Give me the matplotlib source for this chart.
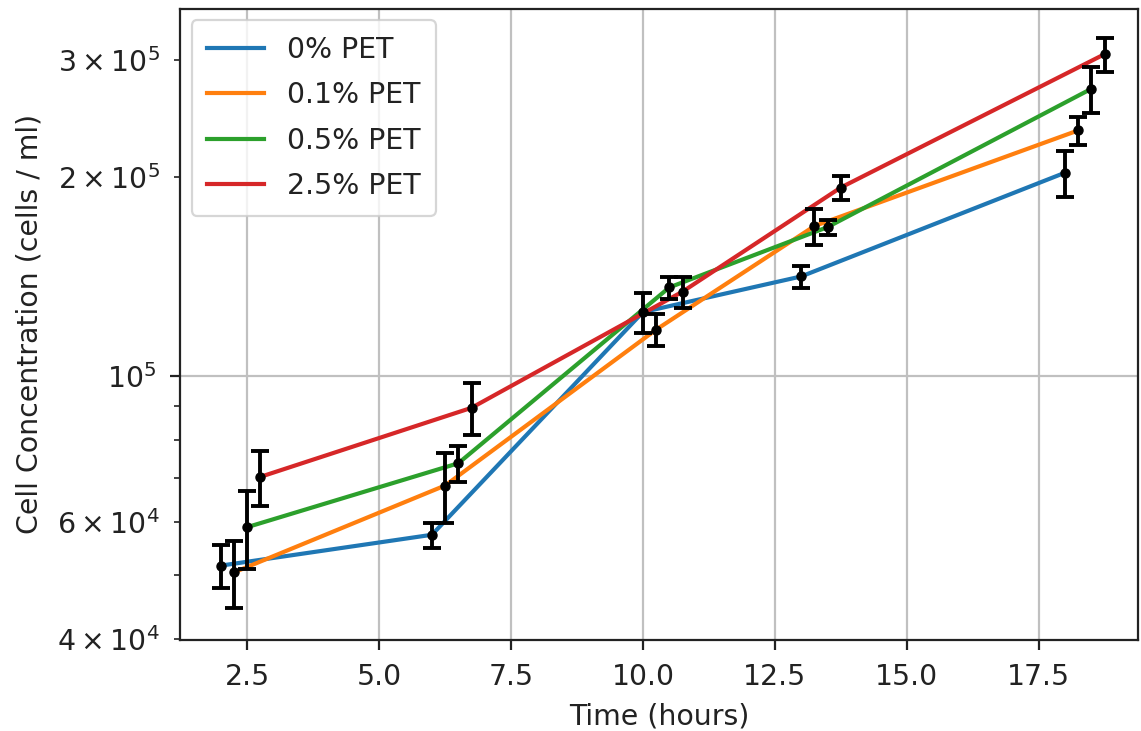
import matplotlib
matplotlib.use("Agg")
import matplotlib.pyplot as plt
import numpy as np

labels = ["0% PET", "0.1% PET", "0.5% PET", "2.5% PET"]
times = [2.0, 6.0, 10.0, 13.0, 18.0]
offsets = [0.0, 0.25, 0.5, 0.75]

conc = [
    [51600, 57450, 124800, 141300, 202800],
    [50400, 68200, 117400, 168400, 235000],
    [59000, 73700, 136000, 167800, 271700],
    [70300, 89400, 134000, 192600, 306500],
]
err = [
    [3900, 2500, 8700, 5400, 16200],
    [5900, 8300, 6400, 10500, 11500],
    [8000, 4600, 5200, 4400, 21700],
    [6700, 8200, 7200, 8000, 18100],
]

plt.rcParams['font.family'] = ['DejaVu Sans']
plt.rcParams['font.size'] = 20.4

fig = plt.figure(figsize=(11.41, 7.31), dpi=100)
ax = fig.add_axes([0.158, 0.125, 0.839, 0.863])

for lab, off, y, e in zip(labels, offsets, conc, err):
    x = np.array(times) + off
    ax.plot(x, y, label=lab, linewidth=3.0)
for off, y, e in zip(offsets, conc, err):
    x = np.array(times) + off
    ax.errorbar(x, y, yerr=e, fmt='k.', markersize=13, capsize=6.5,
                elinewidth=2.8, capthick=2.8, zorder=5)

ax.set_yscale('log')
ax.set_xlim(1.23, 19.375)
ax.set_ylim(39870, 359000)
ax.set_xticks([2.5, 5.0, 7.5, 10.0, 12.5, 15.0, 17.5])
ax.grid(True, color='#c0c0c0', linewidth=1.6)
ax.tick_params(which='major', length=7, width=1.6, pad=10, colors='#222222')
ax.tick_params(which='minor', length=4.5, width=1.2, pad=10, colors='#222222')
for s in ax.spines.values():
    s.set_linewidth(1.6)
    s.set_color('#222222')
ax.set_xlabel("Time (hours)", labelpad=8, color='#222222')
ax.set_ylabel("Cell Concentration (cells / ml)", labelpad=10, color='#222222')
leg = ax.legend(loc='upper left', fontsize=20.4, handlelength=2.0,
                borderaxespad=0.4, labelspacing=0.62, borderpad=0.55)
leg.get_frame().set_linewidth(1.6)
for t in leg.get_texts():
    t.set_color('#222222')

fig.savefig("out.png", dpi=100)
